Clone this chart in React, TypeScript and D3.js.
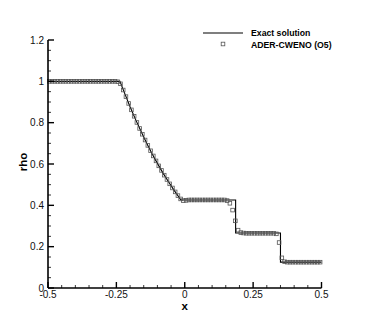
import React from "react";
import * as d3 from "d3";

// exact Riemann solution
const exactX = [-0.5, -0.237, -0.22, -0.2, -0.18, -0.16, -0.14, -0.12, -0.1, -0.08, -0.06, -0.04, -0.014, 0.186, 0.186, 0.35, 0.35, 0.5];
const exactRho = [1, 1, 0.943, 0.877, 0.816, 0.758, 0.703, 0.651, 0.603, 0.557, 0.515, 0.475, 0.426, 0.426, 0.266, 0.266, 0.125, 0.125];

// ADER-CWENO (O5) cell values
const cellX = [
  -0.495, -0.485, -0.475, -0.465, -0.455, -0.445, -0.435, -0.425, -0.415, -0.405,
  -0.395, -0.385, -0.375, -0.365, -0.355, -0.345, -0.335, -0.325, -0.315, -0.305,
  -0.295, -0.285, -0.275, -0.265, -0.255, -0.245, -0.235, -0.225, -0.215, -0.205,
  -0.195, -0.185, -0.175, -0.165, -0.155, -0.145, -0.135, -0.125, -0.115, -0.105,
  -0.095, -0.085, -0.075, -0.065, -0.055, -0.045, -0.035, -0.025, -0.015, -0.005,
  0.005, 0.015, 0.025, 0.035, 0.045, 0.055, 0.065, 0.075, 0.085, 0.095,
  0.105, 0.115, 0.125, 0.135, 0.145, 0.155, 0.165, 0.175, 0.185, 0.195,
  0.205, 0.215, 0.225, 0.235, 0.245, 0.255, 0.265, 0.275, 0.285, 0.295,
  0.305, 0.315, 0.325, 0.335, 0.345, 0.355, 0.365, 0.375, 0.385, 0.395,
  0.405, 0.415, 0.425, 0.435, 0.445, 0.455, 0.465, 0.475, 0.485, 0.495,
];
const cellRho = [
  1, 1, 1, 1, 1, 1, 1, 1, 1, 1,
  1, 1, 1, 1, 1, 1, 1, 1, 1, 1,
  1, 1, 1, 1, 1, 0.998, 0.988, 0.958, 0.926, 0.893,
  0.862, 0.831, 0.801, 0.772, 0.744, 0.716, 0.69, 0.664, 0.639, 0.615,
  0.591, 0.569, 0.546, 0.525, 0.504, 0.484, 0.465, 0.447, 0.431, 0.423,
  0.424, 0.426, 0.426, 0.426, 0.426, 0.426, 0.426, 0.426, 0.426, 0.426,
  0.426, 0.426, 0.426, 0.426, 0.426, 0.423, 0.41, 0.377, 0.325, 0.28,
  0.268, 0.266, 0.265, 0.265, 0.265, 0.265, 0.265, 0.265, 0.265, 0.265,
  0.265, 0.265, 0.265, 0.262, 0.22, 0.146, 0.127, 0.125, 0.125, 0.125,
  0.125, 0.125, 0.125, 0.125, 0.125, 0.125, 0.125, 0.125, 0.125, 0.125,
];

const xMajor = [-0.5, -0.25, 0, 0.25, 0.5];
const xLabels = ["-0.5", "-0.25", "0", "0.25", "0.5"];
const yMajor = [0, 0.2, 0.4, 0.6, 0.8, 1, 1.2];
const yLabels = ["0", "0.2", "0.4", "0.6", "0.8", "1", "1.2"];

const font = "'Liberation Sans', Arial, sans-serif";

export default function App() {
  const x = d3.scaleLinear().domain([-0.5, 0.5]).range([48, 321.5]);
  const y = d3.scaleLinear().domain([0, 1.2]).range([288, 40]);

  const line = d3
    .line<number>()
    .x((d) => x(exactX[d]))
    .y((d) => y(exactRho[d]));

  const xMinor = d3.range(-0.5, 0.5001, 0.05).filter((v) => !xMajor.some((m) => Math.abs(m - v) < 1e-6));
  const yMinor = d3.range(0, 1.2001, 0.05).filter((v) => !yMajor.some((m) => Math.abs(m - v) < 1e-6));

  const ms = 3.6;

  return (
    <svg
      width={366}
      height={325}
      style={{ position: "absolute", left: 0, top: 0, background: "#fff" }}
      fontFamily={font}
    >
      {/* exact solution */}
      <path d={line(exactX.map((_, i) => i)) || ""} fill="none" stroke="#000" strokeWidth={1.1} />

      {/* numerical markers */}
      {cellX.map((cx, i) => (
        <rect
          key={i}
          x={x(cx) - ms / 2}
          y={y(cellRho[i]) - ms / 2}
          width={ms}
          height={ms}
          fill="none"
          stroke="#555"
          strokeWidth={0.8}
        />
      ))}

      {/* axes */}
      <line x1={x(-0.5)} x2={x(0.5)} y1={y(0)} y2={y(0)} stroke="#000" strokeWidth={1.6} />
      <line x1={x(-0.5)} x2={x(-0.5)} y1={y(0)} y2={y(1.2)} stroke="#000" strokeWidth={1.6} />

      {xMajor.map((v, i) => (
        <g key={"xm" + i}>
          <line x1={x(v)} x2={x(v)} y1={y(0)} y2={y(0) - 6} stroke="#000" strokeWidth={1.4} />
          <text x={x(v)} y={297.5} fontSize={10} textAnchor="middle" fill="#111">
            {xLabels[i]}
          </text>
        </g>
      ))}
      {xMinor.map((v, i) => (
        <line key={"xn" + i} x1={x(v)} x2={x(v)} y1={y(0)} y2={y(0) - 3} stroke="#000" strokeWidth={0.8} />
      ))}

      {yMajor.map((v, i) => (
        <g key={"ym" + i}>
          <line x1={x(-0.5)} x2={x(-0.5) + 6} y1={y(v)} y2={y(v)} stroke="#000" strokeWidth={1.4} />
          <text x={44} y={y(v)} dy="0.35em" fontSize={10} textAnchor="end" fill="#111">
            {yLabels[i]}
          </text>
        </g>
      ))}
      {yMinor.map((v, i) => (
        <line key={"yn" + i} x1={x(-0.5)} x2={x(-0.5) + 3} y1={y(v)} y2={y(v)} stroke="#000" strokeWidth={0.8} />
      ))}

      {/* axis titles */}
      <text x={x(0)} y={310} fontSize={11.5} fontWeight="bold" textAnchor="middle">
        x
      </text>
      <text transform="translate(27,162) rotate(-90)" fontSize={11.5} fontWeight="bold" textAnchor="middle">
        rho
      </text>

      {/* legend */}
      <line x1={203} x2={243} y1={33} y2={33} stroke="#000" strokeWidth={1.1} />
      <text x={251} y={36} fontSize={8.7} fontWeight="bold">
        Exact solution
      </text>
      <rect x={223 - ms / 2} y={44 - ms / 2} width={ms} height={ms} fill="none" stroke="#555" strokeWidth={0.8} />
      <text x={251} y={47.5} fontSize={8.7} fontWeight="bold">
        ADER-CWENO (O5)
      </text>
    </svg>
  );
}
